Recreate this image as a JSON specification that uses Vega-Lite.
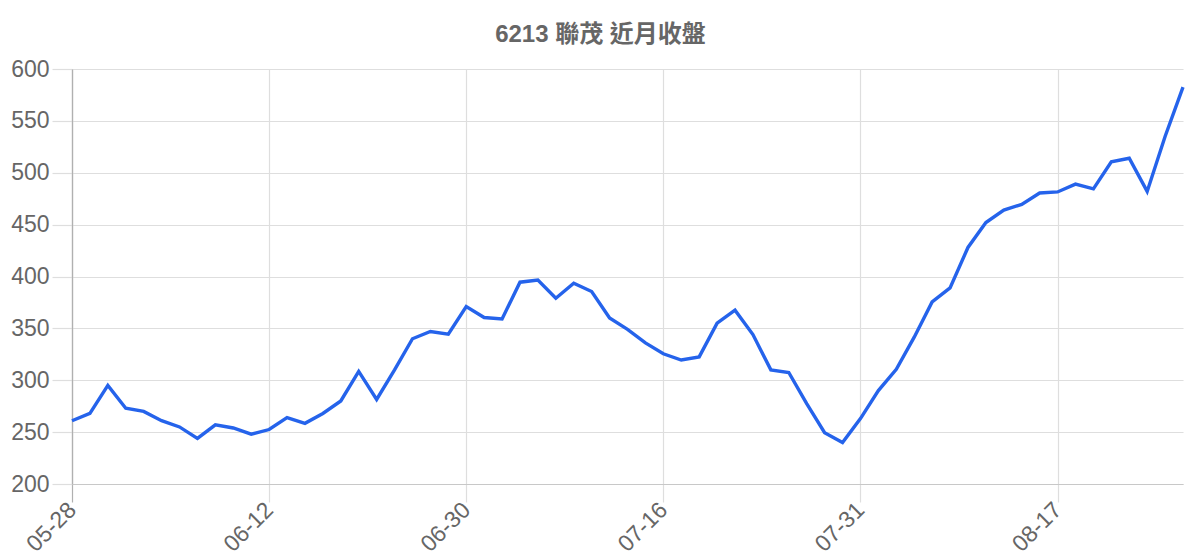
{
  "$schema": "https://vega.github.io/schema/vega-lite/v6.json",
  "width": 1111,
  "height": 415,
  "autosize": {"type": "none"},
  "padding": {"left": 72, "top": 69, "right": 17, "bottom": 76},
  "background": "white",
  "title": {
    "text": "6213 聯茂 近月收盤",
    "font": "Liberation Sans, Noto Sans CJK TC",
    "fontSize": 24,
    "fontWeight": "bold",
    "color": "#666666",
    "anchor": "middle",
    "dx": -27,
    "offset": 11
  },
  "config": {
    "view": {"stroke": null},
    "axis": {
      "labelFont": "Liberation Sans",
      "labelFontSize": 23,
      "labelColor": "#666666",
      "gridColor": "#dedede",
      "gridWidth": 1.2,
      "title": null
    }
  },
  "data": {
    "values": [
      {"date": "05-28", "close": 261},
      {"date": "05-29", "close": 268},
      {"date": "06-01", "close": 295},
      {"date": "06-02", "close": 273},
      {"date": "06-03", "close": 270},
      {"date": "06-04", "close": 261},
      {"date": "06-05", "close": 255},
      {"date": "06-08", "close": 244},
      {"date": "06-09", "close": 257},
      {"date": "06-10", "close": 254},
      {"date": "06-11", "close": 248},
      {"date": "06-12", "close": 252.5},
      {"date": "06-15", "close": 264},
      {"date": "06-16", "close": 258.5},
      {"date": "06-17", "close": 268},
      {"date": "06-18", "close": 280},
      {"date": "06-19", "close": 308.5},
      {"date": "06-20", "close": 281.5},
      {"date": "06-22", "close": 310},
      {"date": "06-23", "close": 340},
      {"date": "06-24", "close": 347},
      {"date": "06-29", "close": 344.5},
      {"date": "06-30", "close": 371},
      {"date": "07-01", "close": 360.5},
      {"date": "07-02", "close": 359},
      {"date": "07-06", "close": 394.5},
      {"date": "07-07", "close": 396.5},
      {"date": "07-08", "close": 379},
      {"date": "07-09", "close": 393.5},
      {"date": "07-10", "close": 385.5},
      {"date": "07-13", "close": 360},
      {"date": "07-14", "close": 349},
      {"date": "07-15", "close": 336},
      {"date": "07-16", "close": 325.5},
      {"date": "07-17", "close": 319.5},
      {"date": "07-20", "close": 322.5},
      {"date": "07-21", "close": 355},
      {"date": "07-22", "close": 367.5},
      {"date": "07-23", "close": 344},
      {"date": "07-24", "close": 310},
      {"date": "07-27", "close": 307.5},
      {"date": "07-28", "close": 277.5},
      {"date": "07-29", "close": 249.5},
      {"date": "07-30", "close": 240},
      {"date": "07-31", "close": 263},
      {"date": "08-03", "close": 290},
      {"date": "08-04", "close": 310.5},
      {"date": "08-05", "close": 341.5},
      {"date": "08-06", "close": 375.5},
      {"date": "08-07", "close": 389},
      {"date": "08-10", "close": 428},
      {"date": "08-11", "close": 452},
      {"date": "08-12", "close": 464},
      {"date": "08-13", "close": 469.5},
      {"date": "08-14", "close": 480.5},
      {"date": "08-17", "close": 481.5},
      {"date": "08-18", "close": 489},
      {"date": "08-19", "close": 484.5},
      {"date": "08-20", "close": 510.5},
      {"date": "08-21", "close": 514},
      {"date": "08-24", "close": 482},
      {"date": "08-25", "close": 535},
      {"date": "08-26", "close": 582.5}
    ]
  },
  "mark": {"type": "line", "color": "#2563eb", "strokeWidth": 3.4, "strokeJoin": "miter"},
  "encoding": {
    "x": {
      "field": "date",
      "type": "ordinal",
      "sort": null,
      "scale": {"type": "point", "padding": 0},
      "axis": {
        "values": ["05-28", "06-12", "06-30", "07-16", "07-31", "08-17"],
        "labelAngle": -45,
        "labelAlign": "right",
        "labelBaseline": "middle",
        "labelPadding": 4,
        "tickSize": 18,
        "tickWidth": 1.2,
        "tickColor": {"condition": {"test": "datum.value === '05-28'", "value": "#b0b0b0"}, "value": "#dedede"},
        "gridColor": {"condition": {"test": "datum.value === '05-28'", "value": "#b0b0b0"}, "value": "#dedede"},
        "domainColor": "#c8c8c8",
        "domainWidth": 1.2,
        "grid": true
      }
    },
    "y": {
      "field": "close",
      "type": "quantitative",
      "scale": {"domain": [200, 600], "nice": false, "zero": false},
      "axis": {
        "values": [200, 250, 300, 350, 400, 450, 500, 550, 600],
        "tickSize": 20,
        "tickWidth": 1.2,
        "tickColor": "#dedede",
        "labelPadding": 3,
        "domainColor": "#b0b0b0",
        "domainWidth": 1.2,
        "grid": true
      }
    }
  }
}
